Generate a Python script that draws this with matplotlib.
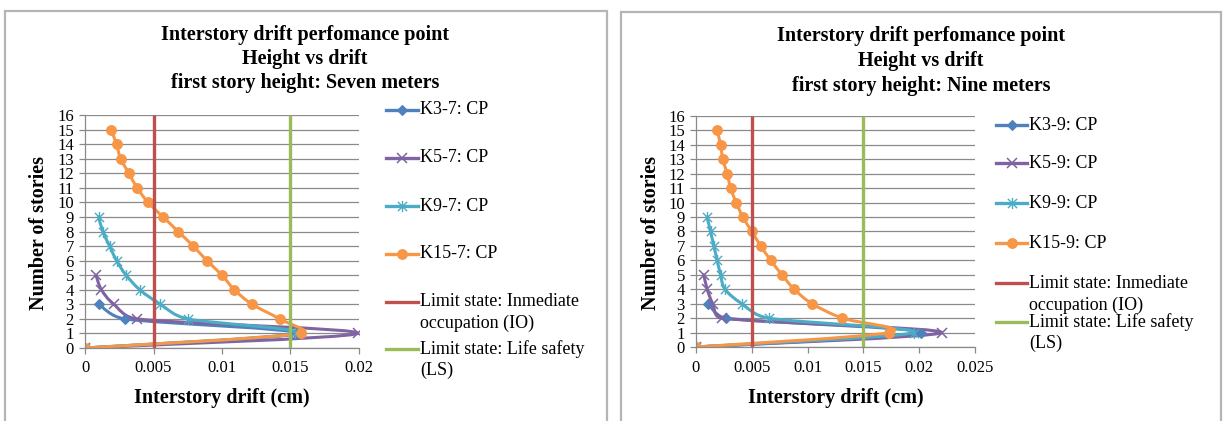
import matplotlib

matplotlib.use("Agg")
import matplotlib.pyplot as plt
import numpy as np
from matplotlib.lines import Line2D
from matplotlib.patches import PathPatch, Rectangle
from matplotlib.path import Path
from matplotlib.ticker import FuncFormatter, MultipleLocator

plt.rcParams["font.family"] = ["Liberation Serif", "DejaVu Serif"]

W, H = 1225, 421

# storey levels 0..n, drift per storey (cm)
stories_3 = [0, 1, 2, 3]
stories_5 = [0, 1, 2, 3, 4, 5]
stories_9 = list(range(10))
stories_15 = list(range(16))

k3_7 = [0, 0.0154, 0.0029, 0.0010]
k5_7 = [0, 0.0199, 0.0038, 0.0021, 0.0012, 0.0008]
k9_7 = [0, 0.0153, 0.0075, 0.0055, 0.0040, 0.0030, 0.0023, 0.0018, 0.0013, 0.0010]
k15_7 = [0, 0.0158, 0.0142, 0.0122, 0.0109, 0.0100, 0.0089, 0.0079,
         0.0068, 0.0057, 0.0046, 0.0038, 0.0032, 0.0026, 0.0023, 0.0019]

k3_9 = [0, 0.0202, 0.0027, 0.0011]
k5_9 = [0, 0.0220, 0.0023, 0.0015, 0.0010, 0.0007]
k9_9 = [0, 0.0195, 0.0065, 0.0041, 0.0026, 0.0022, 0.0019, 0.0016, 0.0013, 0.0010]
k15_9 = [0, 0.0173, 0.0131, 0.0104, 0.0088, 0.0077, 0.0067, 0.0058,
         0.0050, 0.0042, 0.0036, 0.0031, 0.0028, 0.0024, 0.0022, 0.0019]

# limit states (vertical lines from storey 0 to 16)
limit_y = [0, 16]
io_x = [0.005, 0.005]
ls_x = [0.015, 0.015]

labels_7 = ["K3-7: CP", "K5-7: CP", "K9-7: CP", "K15-7: CP",
            "Limit state: Inmediate\noccupation (IO)", "Limit state: Life safety\n(LS)"]
labels_9 = ["K3-9: CP", "K5-9: CP", "K9-9: CP", "K15-9: CP",
            "Limit state: Inmediate\noccupation (IO)", "Limit state: Life safety\n(LS)"]

BLUE = "#4F81BD"
PURPLE = "#8064A2"
AQUA = "#4BACC6"
ORANGE = "#F79646"
RED = "#C0504D"
GREEN = "#9BBB59"
GRID = "#8a8a8a"

# x with a vertical bar, like the office "star" marker
STAR = Path(
    [(-1, -1), (1, 1), (-1, 1), (1, -1), (0, -1.2), (0, 1.2)],
    [Path.MOVETO, Path.LINETO, Path.MOVETO, Path.LINETO, Path.MOVETO, Path.LINETO],
)

STYLES = [
    dict(color=BLUE, marker="D", ms=5.5, mew=0.8),
    dict(color=PURPLE, marker="x", ms=7, mew=1.1),
    dict(color=AQUA, marker=STAR, ms=8, mew=1.0),
    dict(color=ORANGE, marker="o", ms=7, mew=0.8),
    dict(color=RED, marker=None),
    dict(color=GREEN, marker=None),
]


def fx(px):
    return px / W


def fy(py):
    return 1 - py / H


def smooth_path(xs, ys, sx, sy):
    """Bezier through the points; tangents from the neighbours (1/6 rule),
    shortened in pixel space so short segments don't loop back."""
    pts = np.column_stack([np.asarray(xs) * sx, np.asarray(ys) * sy]).astype(float)
    n = len(pts)
    tang = []
    for i in range(n):
        t = (pts[min(i + 1, n - 1)] - pts[max(i - 1, 0)]) / 6
        tang.append(t)
    verts = [pts[0]]
    codes = [Path.MOVETO]
    for i in range(n - 1):
        p1, p2 = pts[i], pts[i + 1]
        seg = np.hypot(*(p2 - p1))
        t1, t2 = tang[i], tang[i + 1]
        for t in (t1, t2):
            pass
        l1, l2 = np.hypot(*t1), np.hypot(*t2)
        if l1 > 0.5 * seg:
            t1 = t1 * 0.5 * seg / l1
        if l2 > 0.5 * seg:
            t2 = t2 * 0.5 * seg / l2
        verts += [p1 + t1, p2 - t2, p2]
        codes += [Path.CURVE4] * 3
    verts = np.array(verts) / [sx, sy]
    return Path(verts, codes)


def draw_series(ax, xs, ys, style, sx, sy):
    ax.add_patch(PathPatch(smooth_path(xs, ys, sx, sy), fill=False,
                           edgecolor=style["color"], lw=2.2,
                           capstyle="round", joinstyle="round"))
    ax.plot(xs, ys, linestyle="none", marker=style["marker"], ms=style["ms"],
            color=style["color"], mec=style["color"], mew=style["mew"])


def draw_panel(rect, series, xmax, legend_x, legend_rows, labels, title_x, title_rows,
               titles, ylabel_x):
    ax = fig.add_axes(rect)
    # pixels per data unit, so the smoothing works in screen space
    sx = rect[2] * W / xmax
    sy = rect[3] * H / 16
    for (xs, ys), style in zip(series, STYLES[:4]):
        draw_series(ax, xs, ys, style, sx, sy)
    ax.plot(io_x, limit_y, color=RED, lw=2.4, solid_capstyle="butt")
    ax.plot(ls_x, limit_y, color=GREEN, lw=2.4, solid_capstyle="butt")

    ax.set_xlim(0, xmax)
    ax.set_ylim(0, 16)
    ax.xaxis.set_major_locator(MultipleLocator(0.005))
    ax.xaxis.set_major_formatter(FuncFormatter(lambda v, p: f"{v:g}"))
    ax.yaxis.set_major_locator(MultipleLocator(1))
    ax.grid(axis="y", color=GRID, lw=0.9)
    ax.set_axisbelow(True)
    for side in ["top", "right"]:
        ax.spines[side].set_visible(False)
    for side in ["left", "bottom"]:
        ax.spines[side].set_color(GRID)
        ax.spines[side].set_linewidth(0.9)
    ax.tick_params(direction="out", length=4, width=0.9, color=GRID,
                   labelsize=12, pad=4)
    ax.tick_params(axis="x", pad=5)

    for t, ty in zip(titles, title_rows):
        fig.text(fx(title_x), fy(ty), t, ha="center", va="center",
                 fontsize=14.5, fontweight="bold")
    xc = (rect[0] + rect[2] / 2) * W
    fig.text(fx(xc), fy(398), "Interstory drift (cm)", ha="center",
             va="center", fontsize=14.5, fontweight="bold")
    fig.text(fx(ylabel_x), fy(233), "Number of stories", ha="center", va="center",
             rotation=90, fontsize=14.5, fontweight="bold")

    x0, x1, xt = legend_x
    for label, (ly, gap), style in zip(labels, legend_rows, STYLES):
        fig.add_artist(Line2D([fx(x0), fx(x1)], [fy(ly)] * 2, transform=fig.transFigure,
                              color=style["color"], lw=2.4))
        if style["marker"] is not None:
            fig.add_artist(Line2D([fx((x0 + x1) / 2)], [fy(ly)], transform=fig.transFigure,
                                  linestyle="none", marker=style["marker"], ms=style["ms"],
                                  color=style["color"], mew=style["mew"]))
        for k, line in enumerate(label.split("\n")):
            fig.text(fx(xt), fy(ly + k * gap), line, ha="left", va="center", fontsize=13)
    return ax


fig = plt.figure(figsize=(W / 100, H / 100), dpi=100)

# chart area frames
for bx0, bx1, by0 in [(5, 607, 11), (621, 1221, 12)]:
    fig.add_artist(Rectangle((fx(bx0), fy(H + 5)), (bx1 - bx0) / W, (H + 5 - by0) / H,
                             transform=fig.transFigure, fill=False, edgecolor="#b5b5b5",
                             lw=1.6))

draw_panel(
    [fx(85), fy(348), 274 / W, 233 / H],
    [(k3_7, stories_3), (k5_7, stories_5), (k9_7, stories_9), (k15_7, stories_15)],
    0.02,
    (386, 418, 420),
    [(110, 21), (158, 21), (206, 21), (254, 21), (302, 21), (349, 21)],
    labels_7,
    305, [35, 59, 83],
    ["Interstory drift perfomance point", "Height vs drift",
     "first story height: Seven meters"],
    39,
)

draw_panel(
    [fx(696), fy(347), 279 / W, 231 / H],
    [(k3_9, stories_3), (k5_9, stories_5), (k9_9, stories_9), (k15_9, stories_15)],
    0.025,
    (996, 1027, 1029),
    [(125, 21), (163, 21), (203, 21), (243, 21), (283, 22), (322, 21)],
    labels_9,
    921, [36, 61, 86],
    ["Interstory drift perfomance point", "Height vs drift",
     "first story height: Nine meters"],
    651,
)

fig.savefig("out.png", dpi=100)
